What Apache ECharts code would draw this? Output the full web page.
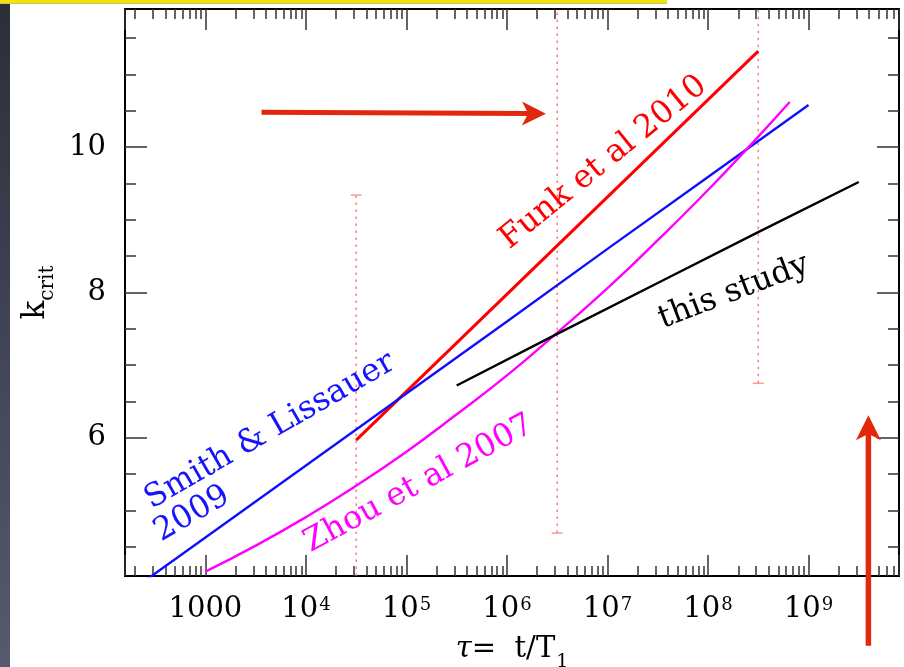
<!DOCTYPE html>
<html><head><meta charset="utf-8">
<script src="https://cdn.jsdelivr.net/npm/echarts@6/dist/echarts.min.js"></script>
<style>html,body{margin:0;padding:0;background:#fff;} #c{width:904px;height:667px;}</style>
</head><body><div id="c"></div>
<script>
// ---------------- data ----------------
const tauRange = [158.49, 7.943e9];          // 10^2.2 .. 10^9.9
const kRange = [4.1, 11.9];
const xMajorTicks = [1e3, 1e4, 1e5, 1e6, 1e7, 1e8, 1e9];
const xMinorMult = [2, 3, 4, 5, 6, 7, 8, 9];
const xMinorDecades = [2, 3, 4, 5, 6, 7, 8, 9];
const yMajorTicks = [6, 8, 10];
const yMinorTicks = [4.5, 5, 5.5, 6, 6.5, 7, 7.5, 8, 8.5, 9, 9.5, 10, 10.5, 11, 11.5];

const smithTau = [100, 1e3, 1e4, 1e5, 1e6, 1e7, 1e8, 1e9];
const smithK   = [3.64, 4.63, 5.62, 6.61, 7.60, 8.60, 9.59, 10.58];
const funkTau  = [3.16e4, 3.16e8];
const funkK    = [5.97, 11.32];
const zhouTau  = [1e3, 3e3, 1e4, 3e4, 1e5, 3e5, 1e6, 3e6, 1e7, 3e7, 1e8, 3e8, 6.5e8];
const zhouK    = [4.16, 4.50, 4.91, 5.32, 5.81, 6.30, 6.86, 7.42, 8.06, 8.69, 9.41, 10.11, 10.62];
const studyTau = [3.16e5, 3.16e6, 3.16e7, 3.16e8, 3.16e9];
const studyK   = [6.72, 7.43, 8.13, 8.83, 9.52];

// vertical dotted ranges (tau, low k, high k, cap k)
const rangeTau  = [3.16e4, 3.16e6, 3.16e8];
const rangeLow  = [4.1, 4.69, 6.75];
const rangeHigh = [9.34, 11.9, 11.9];
const rangeCap  = [9.34, 4.69, 6.75];

// arrows (data coordinates)
const arrowH = [[3614, 10.48], [2.44e6, 10.46]];
const arrowV = [[3.94e9, 3.14], [3.94e9, 6.31]];

// annotation labels
const noteText = ['Smith & Lissauer', '2009', 'Funk et al 2010', 'Zhou et al 2007', 'this study'];
const noteTau  = [4390, 736, 9.12e6, 1.33e5, 1.81e8];
const noteK    = [6.095, 4.953, 9.789, 5.366, 8.007];
// ---------------------------------------

const FONT = '"DejaVu Serif", "Liberation Serif", serif';
const pairs = (a, b) => a.map((v, i) => [v, b[i]]);
const xMinorLog = [];
xMinorDecades.forEach(d => xMinorMult.forEach(m => {
  const v = Math.log10(m) + d;
  if (v > Math.log10(tauRange[0]) && v < Math.log10(tauRange[1])) xMinorLog.push(v);
}));

const chart = echarts.init(document.getElementById('c'), null, {renderer: 'canvas'});
const axisLine = {show: true, onZero: false, lineStyle: {color: '#000', width: 2}};
const tickStyle = {color: '#333', width: 1.5};

function fmtX(v) {
  const L = Math.log10(v);
  const r = Math.round(L);
  if (Math.abs(L - r) > 1e-6) return '';
  if (r === 3) return '{n|1000}';
  return '{n|10}{s|' + r + '}';
}

const noteColors = ['#1414ff', '#1414ff', '#ff0000', '#ff00ff', '#000000'];
const noteRot = [30, 30, 39, 28.5, 21];

const series = [
  {name: 'Smith & Lissauer 2009', type: 'line', data: pairs(smithTau, smithK), symbol: 'none',
   lineStyle: {color: '#1010ff', width: 2.4}, z: 4},
  {name: 'Funk et al 2010', type: 'line', data: pairs(funkTau, funkK), symbol: 'none',
   lineStyle: {color: '#ff0000', width: 3}, z: 3},
  {name: 'Zhou et al 2007', type: 'line', data: pairs(zhouTau, zhouK), symbol: 'none', smooth: true,
   lineStyle: {color: '#ff00ff', width: 2.4}, z: 4},
  {name: 'this study', type: 'line', data: pairs(studyTau, studyK), symbol: 'none',
   lineStyle: {color: '#000000', width: 2.4}, z: 4}
];
rangeTau.forEach((t, i) => {
  series.push({type: 'line', data: [[t, rangeLow[i]], [t, rangeHigh[i]]], symbol: 'none', z: 2,
    lineStyle: {color: '#ff6a6a', width: 1.3, type: [2.5, 4.5]}});
});
series.push({type: 'scatter', data: pairs(rangeTau, rangeCap), symbol: 'rect', symbolSize: [11, 1.4],
  itemStyle: {color: '#ff7a7a'}, z: 2, silent: true});

chart.setOption({
  animation: false,
  backgroundColor: '#ffffff',
  grid: {left: 125, right: 5, top: 9, bottom: 91, containLabel: false, outerBoundsMode: 'none'},
  xAxis: [
    {type: 'log', logBase: 10, min: tauRange[0], max: tauRange[1], position: 'bottom',
     axisLine: axisLine, axisTick: {show: true, inside: true, length: 21, lineStyle: tickStyle},
     axisLabel: {show: true, margin: 16, formatter: fmtX, color: '#000',
       rich: {n: {fontSize: 29, fontFamily: FONT, lineHeight: 34, color: '#000'},
              s: {fontSize: 18, fontFamily: FONT, lineHeight: 18, padding: [0, 0, 8, 1], color: '#000'}}},
     splitLine: {show: false}, minorTick: {show: false},
     name: '{t|τ}{e|=  t/T}{s|1}', nameLocation: 'middle', nameGap: 59,
     nameTextStyle: {color: '#000', rich: {
       t: {fontSize: 29, fontFamily: FONT, fontStyle: 'italic', lineHeight: 32, verticalAlign: 'top', color: '#000'},
       e: {fontSize: 29, fontFamily: FONT, lineHeight: 32, verticalAlign: 'top', color: '#000'},
       s: {fontSize: 19, fontFamily: FONT, lineHeight: 19, padding: [18, 0, 0, 1], verticalAlign: 'top', color: '#000'}}}},
    {type: 'log', logBase: 10, min: tauRange[0], max: tauRange[1], position: 'top',
     axisLine: axisLine, axisTick: {show: true, inside: true, length: 21, lineStyle: tickStyle},
     axisLabel: {show: false}, splitLine: {show: false}},
    {type: 'value', min: Math.log10(tauRange[0]), max: Math.log10(tauRange[1]), position: 'bottom',
     axisLine: {show: false, onZero: false},
     axisTick: {show: true, inside: true, length: 10, lineStyle: tickStyle, customValues: xMinorLog},
     axisLabel: {show: false, customValues: xMinorLog}, splitLine: {show: false}},
    {type: 'value', min: Math.log10(tauRange[0]), max: Math.log10(tauRange[1]), position: 'top',
     axisLine: {show: false, onZero: false},
     axisTick: {show: true, inside: true, length: 10, lineStyle: tickStyle, customValues: xMinorLog},
     axisLabel: {show: false, customValues: xMinorLog}, splitLine: {show: false}}
  ],
  yAxis: [
    {type: 'value', min: kRange[0], max: kRange[1], position: 'left',
     axisLine: axisLine,
     axisTick: {show: true, inside: true, length: 22, lineStyle: tickStyle, customValues: yMajorTicks},
     axisLabel: {show: true, customValues: yMajorTicks, margin: 19, fontSize: 29, fontFamily: FONT, color: '#000'},
     splitLine: {show: false},
     name: '{k|k}{s|crit}', nameLocation: 'middle', nameGap: 71, nameRotate: 90,
     nameTextStyle: {color: '#000', rich: {
       k: {fontSize: 31, fontFamily: FONT, lineHeight: 32, verticalAlign: 'top', color: '#000'},
       s: {fontSize: 20, fontFamily: FONT, lineHeight: 20, padding: [18, 0, 0, 0], verticalAlign: 'top', color: '#000'}}}},
    {type: 'value', min: kRange[0], max: kRange[1], position: 'left',
     axisLine: {show: false, onZero: false},
     axisTick: {show: true, inside: true, length: 11, lineStyle: tickStyle, customValues: yMinorTicks},
     axisLabel: {show: false, customValues: yMinorTicks}, splitLine: {show: false}},
    {type: 'value', min: kRange[0], max: kRange[1], position: 'right',
     axisLine: axisLine,
     axisTick: {show: true, inside: true, length: 22, lineStyle: tickStyle, customValues: yMajorTicks},
     axisLabel: {show: false, customValues: yMajorTicks}, splitLine: {show: false}},
    {type: 'value', min: kRange[0], max: kRange[1], position: 'right',
     axisLine: {show: false, onZero: false},
     axisTick: {show: true, inside: true, length: 11, lineStyle: tickStyle, customValues: yMinorTicks},
     axisLabel: {show: false, customValues: yMinorTicks}, splitLine: {show: false}}
  ],
  series: series
});

function arrowPoly(p0, p1, shaftW, headL, headW, notch) {
  const dx = p1[0] - p0[0], dy = p1[1] - p0[1];
  const len = Math.hypot(dx, dy);
  const ux = dx / len, uy = dy / len, nx = -uy, ny = ux;
  const base = len - headL;
  const pt = (a, b) => [p0[0] + ux * a + nx * b, p0[1] + uy * a + ny * b];
  return [pt(0, shaftW / 2), pt(base + notch, shaftW / 2), pt(base, headW / 2), pt(len, 0),
          pt(base, -headW / 2), pt(base + notch, -shaftW / 2), pt(0, -shaftW / 2)];
}
const px = d => chart.convertToPixel({seriesIndex: 0}, d);
const graphics = [
  {type: 'rect', shape: {x: 0, y: 3, width: 10, height: 664}, silent: true,
   style: {fill: new echarts.graphic.LinearGradient(0, 0, 0, 1, [
     {offset: 0, color: '#2c2e3a'}, {offset: 1, color: '#575a6e'}])}},
  {type: 'rect', shape: {x: 0, y: 0, width: 667, height: 3}, silent: true, style: {fill: '#f2e400'}},
  {type: 'rect', shape: {x: 0, y: 3, width: 667, height: 1}, silent: true, style: {fill: '#c9c27a'}},
  {type: 'polygon', shape: {points: arrowPoly(px(arrowH[0]), px(arrowH[1]), 5, 24, 24, 5)},
   style: {fill: '#e2280c'}, z: 10},
  {type: 'polygon', shape: {points: arrowPoly(px(arrowV[0]), px(arrowV[1]), 5.5, 25, 25, 5)},
   style: {fill: '#e2280c'}, z: 10}
];
noteText.forEach((t, i) => {
  const p = px([noteTau[i], noteK[i]]);
  graphics.push({type: 'text', x: p[0], y: p[1], rotation: noteRot[i] * Math.PI / 180, z: 10,
    style: {text: t, fill: noteColors[i], font: '32px ' + FONT, align: 'center', verticalAlign: 'middle'}});
});
chart.setOption({graphic: graphics});
</script></body></html>
